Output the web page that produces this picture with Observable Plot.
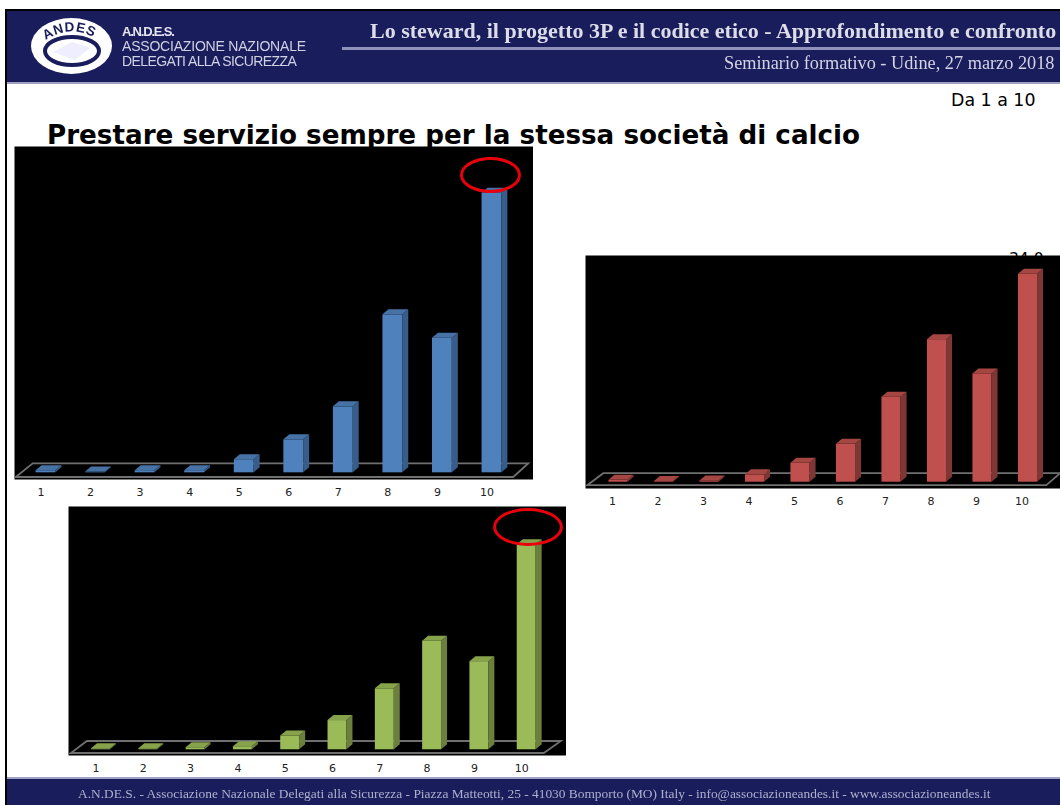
<!DOCTYPE html>
<html lang="it">
<head>
<meta charset="utf-8">
<script src="https://cdn.jsdelivr.net/npm/d3@7"></script>
<script src="https://cdn.jsdelivr.net/npm/@observablehq/plot@0.6"></script>
<style>
html,body{margin:0;padding:0;background:#fff;}
#page{position:relative;width:1060px;height:805px;overflow:hidden;background:#fff;}
#page>*{position:absolute;}
.t{white-space:nowrap;line-height:1;}
.ring{box-sizing:border-box;border:3px solid #e8000b;border-radius:50%;}
</style>
</head>
<body>
<div id="page">
  <div style="left:5px;top:9px;width:2px;height:796px;background:#000"></div>
  <div style="left:5px;top:9px;width:1055px;height:2px;background:#000"></div>
  <div style="left:7px;top:11px;width:1053px;height:71px;background:#1a1d5c"></div>
  <div style="left:7px;top:82px;width:1053px;height:2px;background:#9ea0c4"></div>
  <div style="left:7px;top:777px;width:1053px;height:2px;background:#9ea0c4"></div>
  <div style="left:7px;top:779px;width:1053px;height:26px;background:#1a1d5c"></div>
  <div style="left:342px;top:47px;width:718px;height:3px;background:#8f93bb"></div>

  <svg style="left:28px;top:15px;filter:blur(.4px)" width="90" height="62" viewBox="0 0 90 62">
    <ellipse cx="43.5" cy="31" rx="40.5" ry="28" fill="#fff"/>
    <ellipse cx="44" cy="36" rx="27" ry="14" fill="none" stroke="#1a1d5c" stroke-width="4"/>
    <path d="M25 37 L44 27 L62 33 L47 45 Z" fill="#eef" />
    <path id="arc" d="M11 30 Q44 3 77 30" fill="none"/>
    <text font-family="Liberation Sans" font-weight="700" font-size="13.5" fill="#1a1d5c" letter-spacing=".8"><textPath href="#arc" startOffset="8">ANDES</textPath></text>
  </svg>

  <div class="t" style="left:122px;top:24px;font:700 13px 'Liberation Sans';color:#e4e5f0;letter-spacing:-1.2px;filter:blur(.3px)">A.N.D.E.S.</div>
  <div class="t" style="left:122px;top:38px;font:14px 'Liberation Sans';color:#cfd1e3;letter-spacing:-.2px;filter:blur(.3px)">ASSOCIAZIONE NAZIONALE</div>
  <div class="t" style="left:122px;top:53px;font:14px 'Liberation Sans';color:#cfd1e3;letter-spacing:-.6px;filter:blur(.3px)">DELEGATI ALLA SICUREZZA</div>
  <div class="t" style="left:370px;top:18px;font:700 22px 'Liberation Serif';color:#dcdde8;filter:blur(.25px)">Lo steward, il progetto 3P e il codice etico - Approfondimento e confronto</div>
  <div class="t" style="left:724px;top:53px;font:18.3px 'Liberation Serif';color:#d3d5e4;filter:blur(.25px)">Seminario formativo - Udine, 27 marzo 2018</div>
  <div class="t" style="left:78px;top:786px;font:13.4px 'Liberation Serif';color:#aeb1cc;filter:blur(.3px)">A.N.DE.S. - Associazione Nazionale Delegati alla Sicurezza - Piazza Matteotti, 25 - 41030 Bomporto (MO) Italy - info@associazioneandes.it - www.associazioneandes.it</div>

  <div class="t" style="left:951px;top:90px;font:17.4px 'DejaVu Sans';color:#000">Da 1 a 10</div>
  <div class="t" style="left:47px;top:120px;font:700 26.2px 'DejaVu Sans';color:#000">Prestare servizio sempre per la stessa società di calcio</div>
  <div class="t" style="left:1009px;top:250px;font:15.5px 'DejaVu Sans';color:#000">34.0</div>

  <div id="charts" style="left:0;top:0;width:1060px;height:805px"></div>
  <div class="ring" style="left:460px;top:157px;width:61px;height:36px"></div>
  <div class="ring" style="left:493px;top:508px;width:70px;height:38px"></div>
</div>
<script>
const categories = ["1", "2", "3", "4", "5", "6", "7", "8", "9", "10"];
const blueValues = [0.3, 0.1, 0.3, 0.3, 1.9, 4.8, 9.6, 23.0, 19.6, 40.7];
const redValues = [0.3, 0.1, 0.2, 1.2, 3.1, 6.2, 13.9, 23.3, 17.7, 34.0];
const greenValues = [0.2, 0.2, 0.4, 0.6, 2.7, 5.7, 11.9, 21.2, 17.2, 40.0];

// Adds the side and top faces of each bar drawn by Plot.barY.
function extrude(depthX, depthY, sideColor, topColor) {
  return function (index, scales, values, dimensions, context, next) {
    const g = next(index, scales, values, dimensions, context);
    for (const rect of [...g.querySelectorAll("rect")]) {
      const x = +rect.getAttribute("x"), y = +rect.getAttribute("y");
      const w = +rect.getAttribute("width"), h = +rect.getAttribute("height");
      const face = (points, fill) => {
        const p = document.createElementNS("http://www.w3.org/2000/svg", "polygon");
        p.setAttribute("points", points.map((q) => q.join(",")).join(" "));
        p.setAttribute("fill", fill);
        g.appendChild(p);
      };
      face([[x + w, y], [x + w + depthX, y - depthY], [x + w + depthX, y + h - depthY], [x + w, y + h]], sideColor);
      face([[x, y], [x + depthX, y - depthY], [x + w + depthX, y - depthY], [x + w, y]], topColor);
    }
    return g;
  };
}

// The floor of the 3D chart, placed from the chart's own scales.
function floor(frontGap, backGap, frontInset, backInset) {
  return function (index, { x, y }) {
    const [left, right] = x.range();
    const base = y(0);
    const pts = [
      [left + frontInset[0], base + frontGap],
      [right + frontInset[1], base + frontGap],
      [right + backInset[1], base - backGap],
      [left + backInset[0], base - backGap]
    ];
    const p = document.createElementNS("http://www.w3.org/2000/svg", "polygon");
    p.setAttribute("points", pts.map((q) => q.join(",")).join(" "));
    p.setAttribute("fill", "none");
    p.setAttribute("stroke", "#707070");
    p.setAttribute("stroke-width", "1.8");
    return p;
  };
}

function chart({ values, color, side, top, left, topPx, width, height, first, step, baseline, maxPx, inner, front, back, frontGap, backGap, tickDx }) {
  const data = categories.map((c, i) => ({ category: c, value: values[i] }));
  const x0 = first - step / 2 - left;
  const plot = Plot.plot({
    width,
    height: height + 27,
    marginLeft: 0,
    marginRight: 0,
    marginTop: 0,
    marginBottom: 27,
    style: { background: "transparent", fontFamily: "DejaVu Sans", fontSize: "11px", color: "#000" },
    x: { type: "band", domain: categories, range: [x0, x0 + step * 10], paddingInner: inner, paddingOuter: inner / 2, align: 0.5, round: false, axis: null, label: null },
    y: { domain: [0, d3.max(values)], range: [baseline - topPx, baseline - topPx - maxPx], axis: null },
    marks: [
      Plot.frame({ fill: "#000", stroke: null }),
      floor(frontGap, backGap, front, back),
      Plot.barY(data, { x: "category", y: "value", fill: color, render: extrude(6, 5, side, top) }),
      Plot.axisX(categories, { anchor: "bottom", label: null, tickSize: 0, tickPadding: 9, dx: tickDx, fill: "#222", fontSize: 11 })
    ]
  });
  plot.style.position = "absolute";
  plot.style.left = left + "px";
  plot.style.top = topPx + "px";
  document.getElementById("charts").appendChild(plot);
}

chart({ values: blueValues, color: "#4f81bd", side: "#385d8a", top: "#4672a6",
  left: 14, topPx: 146, width: 519, height: 333, first: 45.5, step: 49.55, baseline: 472.3, maxPx: 279.5, inner: 0.6,
  frontGap: 4.7, backGap: 9, front: [-5, -3], back: [12, 12], tickDx: -5 });
chart({ values: redValues, color: "#c0504d", side: "#7f3735", top: "#a54643",
  left: 585, topPx: 255, width: 475, height: 233, first: 618, step: 45.5, baseline: 481.7, maxPx: 208, inner: 0.58,
  frontGap: 3.5, backGap: 8.5, front: [-8, -4], back: [8, 10], tickDx: -6 });
chart({ values: greenValues, color: "#9bbb59", side: "#6a803c", top: "#86a24b",
  left: 68, topPx: 506, width: 498, height: 249, first: 100.5, step: 47.3, baseline: 749.3, maxPx: 205, inner: 0.6,
  frontGap: 3.7, backGap: 8.3, front: [-6, -6], back: [10, 11], tickDx: -5 });
</script>
</body>
</html>
